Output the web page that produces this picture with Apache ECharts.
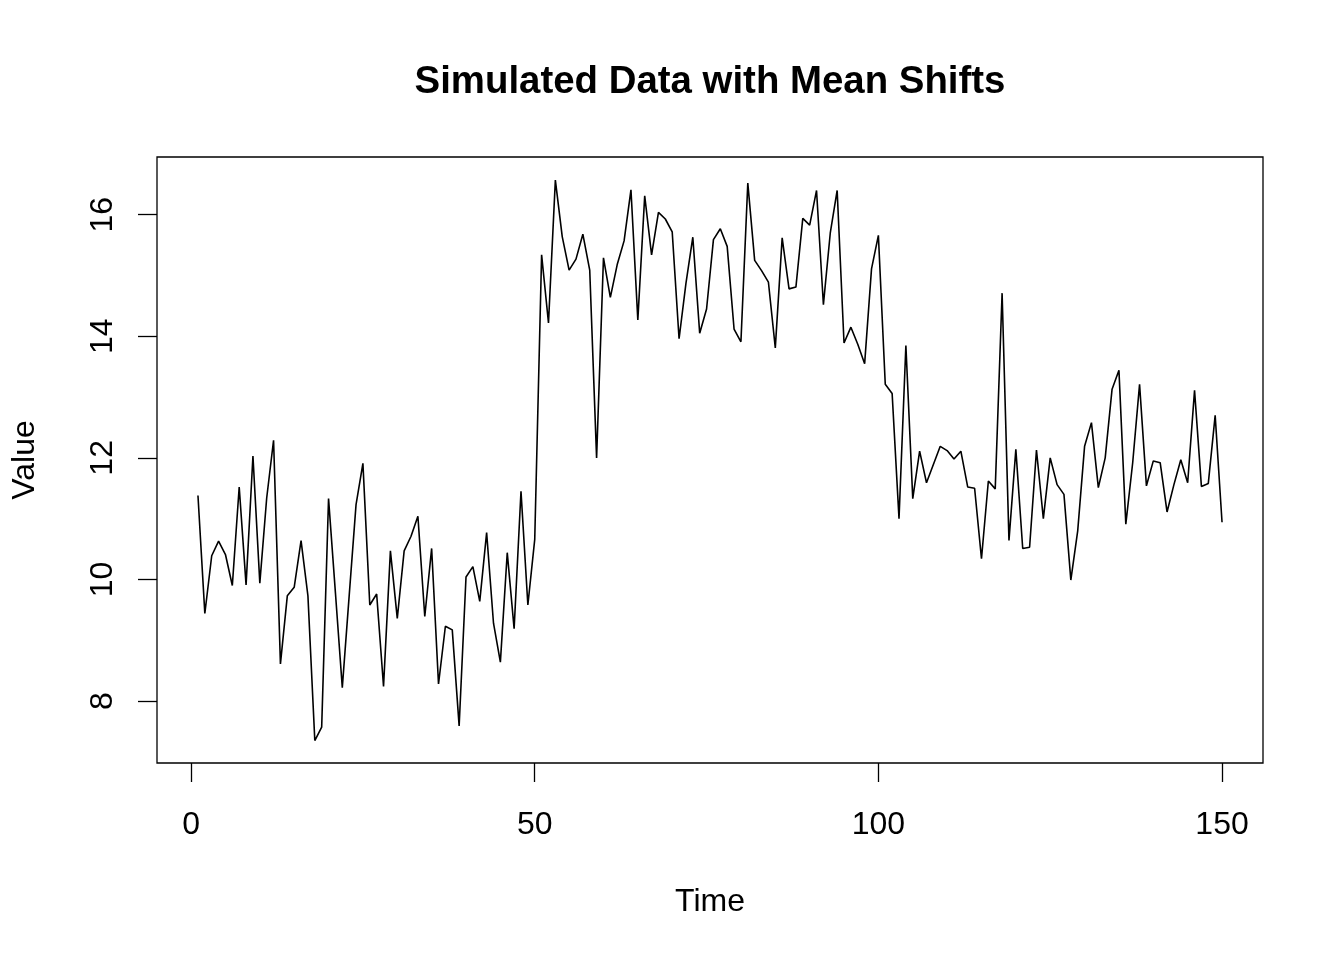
<!DOCTYPE html>
<html>
<head>
<meta charset="utf-8">
<title>Simulated Data with Mean Shifts</title>
<script src="https://cdn.jsdelivr.net/npm/echarts@6/dist/echarts.min.js"></script>
<style>
    html, body { margin: 0; padding: 0; background: #fff; }
    #chart { width: 1344px; height: 960px; }
</style>
</head>
<body>
<div id="chart"></div>
<script>
// values, one per time step (1..150)
var values = [
    11.38, 9.44, 10.39, 10.63, 10.41, 9.90, 11.52, 9.91, 12.03, 9.94,
    11.34, 12.29, 8.61, 9.73, 9.87, 10.64, 9.73, 7.35, 7.57, 11.33,
    9.78, 8.22, 9.73, 11.23, 11.91, 9.58, 9.76, 8.24, 10.47, 9.36,
    10.47, 10.71, 11.04, 9.39, 10.51, 8.28, 9.23, 9.17, 7.59, 10.04,
    10.21, 9.64, 10.77, 9.28, 8.64, 10.44, 9.19, 11.45, 9.58, 10.66,
    15.34, 14.22, 16.57, 15.64, 15.09, 15.27, 15.68, 15.09, 12.00, 15.29,
    14.64, 15.18, 15.57, 16.41, 14.27, 16.31, 15.34, 16.04, 15.93, 15.72,
    13.96, 14.87, 15.63, 14.05, 14.45, 15.59, 15.77, 15.48, 14.12, 13.91,
    16.52, 15.25, 15.08, 14.89, 13.81, 15.62, 14.78, 14.81, 15.94, 15.83,
    16.40, 14.52, 15.70, 16.40, 13.89, 14.15, 13.87, 13.55, 15.11, 15.66,
    13.21, 13.06, 11.00, 13.85, 11.33, 12.11, 11.59, 11.89, 12.19, 12.12,
    11.98, 12.11, 11.52, 11.50, 10.34, 11.62, 11.49, 14.71, 10.64, 12.14,
    10.51, 10.53, 12.13, 11.00, 12.00, 11.56, 11.40, 9.99, 10.80, 12.19,
    12.58, 11.51, 12.00, 13.13, 13.44, 10.91, 11.92, 13.21, 11.54, 11.95,
    11.92, 11.11, 11.56, 11.97, 11.59, 13.11, 11.53, 11.58, 12.70, 10.94
];
var xTicks = [0, 50, 100, 150];
var yTicks = [8, 10, 12, 14, 16];

var font = '"Liberation Sans", Arial, Helvetica, sans-serif';

var seriesData = values.map(function(v, i) {
    return [i + 1, v];
});

var myChart = echarts.init(document.getElementById('chart'));

var option = {
    backgroundColor: '#fff',
    animation: false,
    title: {
        text: 'Simulated Data with Mean Shifts',
        left: 705,
        top: 58,
        textAlign: 'center',
        textStyle: {
            fontFamily: font,
            fontSize: 38.4,
            fontWeight: 'bold',
            color: '#000'
        }
    },
    grid: {
        left: 157,
        right: 81,
        top: 157,
        bottom: 197,
        show: true,
        borderColor: '#000',
        borderWidth: 1.3,
        backgroundColor: 'transparent'
    },
    xAxis: {
        type: 'value',
        min: -4.96,
        max: 155.96,
        name: 'Time',
        nameLocation: 'middle',
        nameGap: 123,
        nameTextStyle: { fontFamily: font, fontSize: 32, color: '#000' },
        axisLine: { show: false, onZero: false },
        splitLine: { show: false },
        axisTick: {
            show: true,
            length: 19,
            customValues: xTicks,
            lineStyle: { color: '#000', width: 1.3 }
        },
        axisLabel: {
            customValues: xTicks,
            margin: 46,
            fontFamily: font,
            fontSize: 32,
            color: '#000'
        }
    },
    yAxis: {
        type: 'value',
        min: 6.98,
        max: 16.95,
        name: 'Value',
        nameLocation: 'middle',
        nameGap: 116,
        nameTextStyle: { fontFamily: font, fontSize: 32, color: '#000' },
        axisLine: { show: false, onZero: false },
        splitLine: { show: false },
        axisTick: {
            show: true,
            length: 19,
            customValues: yTicks,
            lineStyle: { color: '#000', width: 1.3 }
        },
        axisLabel: {
            customValues: yTicks,
            rotate: 90,
            margin: 38,
            fontFamily: font,
            fontSize: 32,
            color: '#000'
        }
    },
    series: [{
        type: 'line',
        data: seriesData,
        showSymbol: false,
        symbol: 'none',
        lineStyle: { color: '#000', width: 1.6 }
    }]
};

myChart.setOption(option);

window.addEventListener('resize', function() {
    myChart.resize();
});
</script>
</body>
</html>
